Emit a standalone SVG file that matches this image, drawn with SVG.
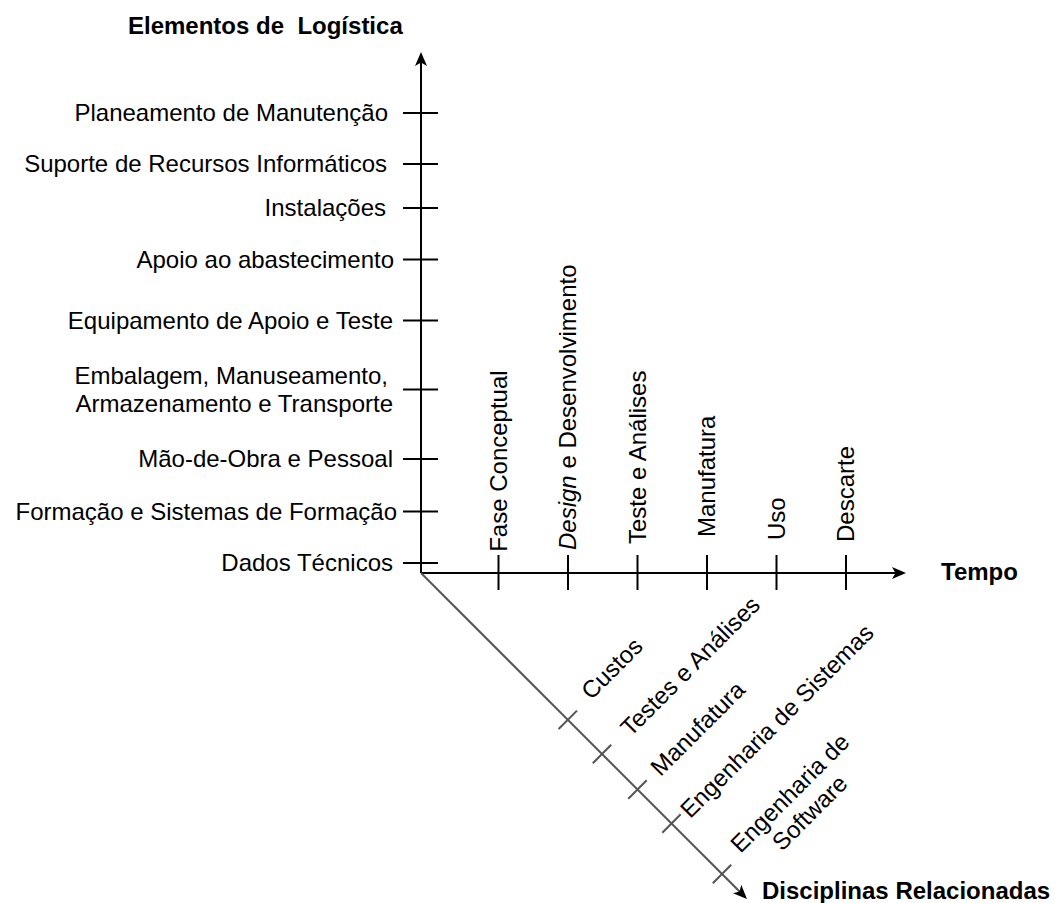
<svg xmlns="http://www.w3.org/2000/svg" width="1055" height="903" viewBox="0 0 1055 903">
  <style>
    .axis { stroke: #000; stroke-width: 2; fill: none; }
    .diag { stroke: #555; stroke-width: 2; fill: none; }
    .tick { stroke: #000; stroke-width: 2; fill: none; }
    .lbl { font-family: "Liberation Sans", Arial, Helvetica, sans-serif; font-size: 24px; fill: #000; }
    .ttl { font-family: "Liberation Sans", Arial, Helvetica, sans-serif; font-size: 24px; font-weight: bold; fill: #000; }
    .end { text-anchor: end; }
    .mid { text-anchor: middle; }
  </style>
  <defs>
    <marker id="arrow" markerUnits="userSpaceOnUse" markerWidth="16" markerHeight="14" viewBox="0 0 16 14" refX="6" refY="7" orient="auto">
      <path d="M0,1 L14,7 L0,13 L3.5,7 Z" fill="#000"/>
    </marker>
  </defs>

  <!-- axes and tick marks -->
  <g id="connectors">
    <line class="axis" x1="421" y1="573" x2="421" y2="60" marker-end="url(#arrow)"/>
    <line class="axis" x1="421" y1="573" x2="898" y2="573" marker-end="url(#arrow)"/>
    <line class="diag" x1="421" y1="573" x2="741.3" y2="893.3" marker-end="url(#arrow)"/>

    <g id="ticks-vertical">
      <line class="tick" x1="403" y1="113" x2="438" y2="113"/>
      <line class="tick" x1="403" y1="164" x2="438" y2="164"/>
      <line class="tick" x1="403" y1="208" x2="438" y2="208"/>
      <line class="tick" x1="403" y1="259.5" x2="438" y2="259.5"/>
      <line class="tick" x1="403" y1="320.5" x2="438" y2="320.5"/>
      <line class="tick" x1="403" y1="389.5" x2="438" y2="389.5"/>
      <line class="tick" x1="403" y1="459" x2="438" y2="459"/>
      <line class="tick" x1="403" y1="511.5" x2="438" y2="511.5"/>
      <line class="tick" x1="403" y1="563" x2="438" y2="563"/>
    </g>
    <g id="ticks-horizontal">
      <line class="tick" x1="498.5" y1="555" x2="498.5" y2="590"/>
      <line class="tick" x1="568" y1="555" x2="568" y2="590"/>
      <line class="tick" x1="637.5" y1="555" x2="637.5" y2="590"/>
      <line class="tick" x1="707" y1="555" x2="707" y2="590"/>
      <line class="tick" x1="776.5" y1="555" x2="776.5" y2="590"/>
      <line class="tick" x1="846" y1="555" x2="846" y2="590"/>
    </g>
    <g id="ticks-diagonal">
      <line class="diag" x1="558.6" y1="729" x2="577" y2="710.6"/>
      <line class="diag" x1="592.8" y1="763.2" x2="611.2" y2="744.8"/>
      <line class="diag" x1="628.3" y1="798.7" x2="646.7" y2="780.3"/>
      <line class="diag" x1="662.3" y1="832.7" x2="680.7" y2="814.3"/>
      <line class="diag" x1="712.8" y1="883.2" x2="731.2" y2="864.8"/>
    </g>
  </g>

  <!-- axis titles -->
  <g id="title-elementos"><text class="ttl" x="128" y="33.5" xml:space="preserve">Elementos de  Logística</text></g>
  <g id="title-tempo"><text class="ttl" x="941" y="580">Tempo</text></g>
  <g id="title-disciplinas"><text class="ttl" x="762" y="899">Disciplinas Relacionadas</text></g>

  <!-- logistics elements (vertical axis) -->
  <g id="el-planeamento"><text class="lbl end" x="388" y="121">Planeamento de Manutenção</text></g>
  <g id="el-suporte"><text class="lbl end" x="387" y="172">Suporte de Recursos Informáticos</text></g>
  <g id="el-instalacoes"><text class="lbl end" x="386" y="216">Instalações</text></g>
  <g id="el-apoio"><text class="lbl end" x="394" y="267.5">Apoio ao abastecimento</text></g>
  <g id="el-equipamento"><text class="lbl end" x="393" y="328.5">Equipamento de Apoio e Teste</text></g>
  <g id="el-embalagem">
    <text class="lbl end" x="388" y="384">Embalagem, Manuseamento,</text>
    <text class="lbl end" x="393" y="412">Armazenamento e Transporte</text>
  </g>
  <g id="el-maodeobra"><text class="lbl end" x="393" y="467">Mão-de-Obra e Pessoal</text></g>
  <g id="el-formacao"><text class="lbl end" x="397" y="519.5">Formação e Sistemas de Formação</text></g>
  <g id="el-dados"><text class="lbl end" x="393" y="571">Dados Técnicos</text></g>

  <!-- life-cycle phases (time axis) -->
  <g id="ph-fase"><text class="lbl" transform="translate(506.5,551.8) rotate(-90)">Fase Conceptual</text></g>
  <g id="ph-design"><text class="lbl" transform="translate(576,550) rotate(-90)"><tspan font-style="italic">Design</tspan> e Desenvolvimento</text></g>
  <g id="ph-teste"><text class="lbl" transform="translate(645.5,544) rotate(-90)">Teste e Análises</text></g>
  <g id="ph-manufatura"><text class="lbl" transform="translate(715,537) rotate(-90)">Manufatura</text></g>
  <g id="ph-uso"><text class="lbl" transform="translate(784.5,540) rotate(-90)">Uso</text></g>
  <g id="ph-descarte"><text class="lbl" transform="translate(854,542) rotate(-90)">Descarte</text></g>

  <!-- related disciplines (diagonal axis) -->
  <g id="di-custos"><text class="lbl mid" transform="translate(617.7,674.3) rotate(-45)">Custos</text></g>
  <g id="di-testes"><text class="lbl mid" transform="translate(696,672) rotate(-45)">Testes e Análises</text></g>
  <g id="di-manufatura"><text class="lbl mid" transform="translate(703.5,734.3) rotate(-45)">Manufatura</text></g>
  <g id="di-sistemas"><text class="lbl mid" transform="translate(782.7,726.8) rotate(-45)">Engenharia de Sistemas</text></g>
  <g id="di-software">
    <text class="lbl mid" transform="translate(800,803) rotate(-45)"><tspan x="0" y="-6">Engenharia de</tspan><tspan x="0" y="22">Software</tspan></text>
  </g>
</svg>
